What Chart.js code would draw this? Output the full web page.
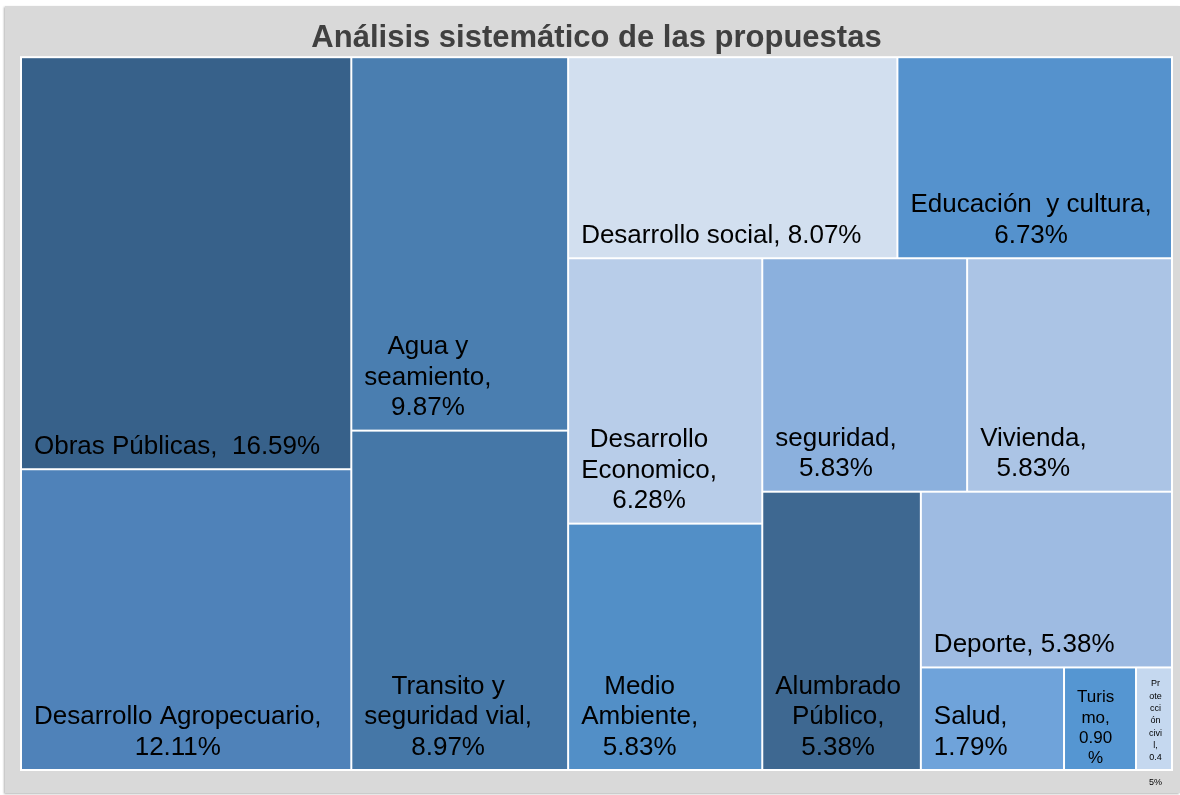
<!DOCTYPE html>
<html lang="es">
<head>
  <meta charset="UTF-8">
  <title>Análisis sistemático de las propuestas</title>
  <script src="https://cdn.jsdelivr.net/npm/chart.js"></script>
  <style>
    body {
      margin: 0;
      background-color: #ffffff;
    }
    #panel {
      position: absolute;
      left: 5px;
      top: 6px;
      width: 1175px;
      height: 787px;
      background-color: #d9d9d9;
      box-shadow: -1px 1px 2px rgba(0, 0, 0, 0.3);
    }
    canvas {
      position: absolute;
      left: 0;
      top: 0;
    }
  </style>
</head>
<body>
  <div id="panel"></div>
  <canvas id="grafico" width="1180" height="795"></canvas>

  <script>
    const categorias = [
      'Obras Públicas', 'Desarrollo Agropecuario', 'Agua y seamiento',
      'Transito y seguridad vial', 'Desarrollo social', 'Educación y cultura',
      'Desarrollo Economico', 'Medio Ambiente', 'seguridad', 'Vivienda',
      'Alumbrado Público', 'Deporte', 'Salud', 'Turismo', 'Protección civil'
    ];
    const valores = [16.59, 12.11, 9.87, 8.97, 8.07, 6.73, 6.28, 5.83, 5.83, 5.83, 5.38, 5.38, 1.79, 0.90, 0.45];

    // texto de cada etiqueta tal como aparece cortado en la figura
    const etiquetas = [
      ['Obras Públicas,  16.59%'],
      ['Desarrollo Agropecuario,', '12.11%'],
      ['Agua y', 'seamiento,', '9.87%'],
      ['Transito y', 'seguridad vial,', '8.97%'],
      ['Desarrollo social, 8.07%'],
      ['Educación  y cultura,', '6.73%'],
      ['Desarrollo', 'Economico,', '6.28%'],
      ['Medio', 'Ambiente,', '5.83%'],
      ['seguridad,', '5.83%'],
      ['Vivienda,', '5.83%'],
      ['Alumbrado', 'Público,', '5.38%'],
      ['Deporte, 5.38%'],
      ['Salud,', '1.79%'],
      ['Turis', 'mo,', '0.90', '%'],
      ['Pr', 'ote', 'cci', 'ón', 'civi', 'l,', '0.4', '', '5%']
    ];

    const colores = [
      '#37618a', '#4f82b9', '#4a7eb0', '#4577a7', '#d2dfef',
      '#5592cd', '#b8cde9', '#528fc7', '#8bb0dd', '#abc4e5',
      '#3e6891', '#9ebbe2', '#6fa3da', '#5596d2', '#c5d8ef'
    ];

    const FUENTE = '"Liberation Sans", Arial, sans-serif';

    // squarify (mismo criterio que d3) con proporción objetivo 1/phi
    function squarify(vals, x0, y0, x1, y1, ratio) {
      const out = [];
      const n = vals.length;
      let value = vals.reduce((a, b) => a + b, 0);
      let i0 = 0, i1 = 0;
      while (i0 < n) {
        const dx = x1 - x0, dy = y1 - y0;
        let sum = vals[i1++];
        let minV = sum, maxV = sum;
        const alpha = Math.max(dy / dx, dx / dy) / (value * ratio);
        let beta = sum * sum * alpha;
        let minRatio = Math.max(maxV / beta, beta / minV);
        for (; i1 < n; ++i1) {
          const v = vals[i1];
          sum += v;
          if (v < minV) minV = v;
          if (v > maxV) maxV = v;
          beta = sum * sum * alpha;
          const r = Math.max(maxV / beta, beta / minV);
          if (r > minRatio) { sum -= v; break; }
          minRatio = r;
        }
        if (dx < dy) {
          const h = dy * sum / value;
          let x = x0;
          for (let i = i0; i < i1; i++) {
            const w = dx * vals[i] / sum;
            out[i] = { x0: x, y0: y0, x1: x + w, y1: y0 + h };
            x += w;
          }
          y0 += h;
        } else {
          const w = dx * sum / value;
          let y = y0;
          for (let i = i0; i < i1; i++) {
            const h = dy * vals[i] / sum;
            out[i] = { x0: x0, y0: y, x1: x0 + w, y1: y + h };
            y += h;
          }
          x0 += w;
        }
        value -= sum;
        i0 = i1;
      }
      return out;
    }

    const treemapPlugin = {
      id: 'treemap',
      beforeDatasetsDraw(chart) {
        const { ctx, chartArea: a } = chart;
        const sx = chart.scales.x, sy = chart.scales.y;
        ctx.save();
        ctx.fillStyle = '#ffffff';
        ctx.fillRect(a.left - 1, a.top - 1, a.width + 2, a.height + 2);

        const celdas = squarify(valores, 0, 0, a.width, a.height, 0.618);
        celdas.forEach((c, i) => {
          const l = sx.getPixelForValue(c.x0 / a.width) + 1;
          const r = sx.getPixelForValue(c.x1 / a.width) - 1;
          const t = sy.getPixelForValue(c.y0 / a.height) + 1;
          const b = sy.getPixelForValue(c.y1 / a.height) - 1;
          ctx.fillStyle = colores[i];
          ctx.fillRect(l, t, r - l, b - t);

          // etiqueta
          const w = r - l;
          const fs = w >= 100 ? 26 : (w >= 50 ? 17 : 9);
          const lh = fs < 12 ? 12.3 : fs * 1.135 + 1;
          const lineas = etiquetas[i];
          ctx.font = fs + 'px ' + FUENTE;
          ctx.fillStyle = '#000000';
          ctx.textAlign = 'center';
          ctx.textBaseline = 'alphabetic';
          const anchoBloque = Math.max(...lineas.map(s => ctx.measureText(s).width));
          const cx = l + 12 + anchoBloque / 2;
          let primera = b - (fs * 0.4 + 4) - (lineas.length - 1) * lh;
          primera = Math.max(primera, t + fs * 2);
          lineas.forEach((s, k) => {
            ctx.fillText(s, cx, primera + k * lh);
          });
        });
        ctx.restore();
      }
    };

    const ctx = document.getElementById('grafico').getContext('2d');
    new Chart(ctx, {
      type: 'scatter',
      data: {
        datasets: [{ label: 'Propuestas', data: [] }]
      },
      options: {
        responsive: false,
        animation: false,
        layout: {
          padding: { left: 21, right: 8, top: 5, bottom: 25 }
        },
        scales: {
          x: { display: false, min: 0, max: 1 },
          y: { display: false, min: 0, max: 1, reverse: true }
        },
        plugins: {
          legend: { display: false },
          tooltip: { enabled: false },
          title: {
            display: true,
            text: 'Análisis sistemático de las propuestas',
            color: '#404040',
            font: { family: FUENTE, size: 31, weight: 'bold' },
            padding: { top: 15, bottom: 0 }
          }
        }
      },
      plugins: [treemapPlugin]
    });
  </script>
</body>
</html>
